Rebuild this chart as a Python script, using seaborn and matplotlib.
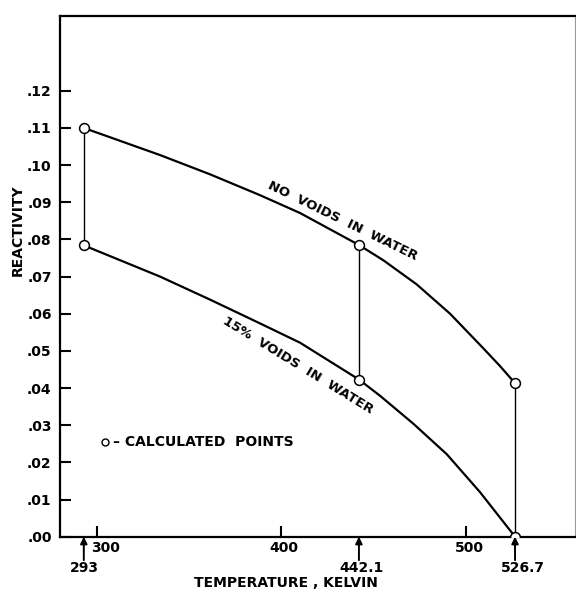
import matplotlib
matplotlib.use("Agg")
import matplotlib.pyplot as plt
import matplotlib.transforms as mtransforms
import seaborn as sns
import pandas as pd

# ---- data ----
temp_no_voids = [293, 334.3, 361.5, 388.5, 410.2, 442.1, 455.3, 473.4, 491.5, 509.5, 518.6, 526.7]
react_no_voids = [0.110, 0.1027, 0.0975, 0.0919, 0.0871, 0.0785, 0.0744, 0.0679, 0.0600, 0.0507, 0.0459, 0.0413]

temp_15_voids = [293, 334.3, 361.4, 388.5, 410.2, 442.1, 453.6, 471.6, 489.7, 507.7, 526.7]
react_15_voids = [0.0784, 0.0700, 0.0638, 0.0574, 0.0522, 0.0423, 0.0379, 0.0304, 0.0222, 0.0120, 0.000]

calc_temp = [293, 442.1, 526.7]
calc_no_voids = [0.110, 0.0785, 0.0413]
calc_15_voids = [0.0784, 0.0423, 0.000]
calc_labels = ["293", "442.1", "526.7"]

xticks = [300, 400, 500]
xtick_labels = ["300", "400", "500"]
yticks = [0.00, 0.01, 0.02, 0.03, 0.04, 0.05, 0.06, 0.07, 0.08, 0.09, 0.10, 0.11, 0.12]
ytick_labels = [".00", ".01", ".02", ".03", ".04", ".05", ".06", ".07", ".08", ".09", ".10", ".11", ".12"]

sns.set_theme(style="white")
plt.rcParams["font.family"] = ["DejaVu Sans"]
plt.rcParams["text.color"] = "black"

fig = plt.figure(figsize=(5.76, 5.91), dpi=100)
ax = fig.add_axes([60 / 576, (591 - 536.7) / 591, (575 - 60) / 576, (536.7 - 15.7) / 591])

df_no = pd.DataFrame({"T": temp_no_voids, "R": react_no_voids})
df_15 = pd.DataFrame({"T": temp_15_voids, "R": react_15_voids})
sns.lineplot(data=df_no, x="T", y="R", ax=ax, color="black", linewidth=1.6, sort=False, zorder=2)
sns.lineplot(data=df_15, x="T", y="R", ax=ax, color="black", linewidth=1.6, sort=False, zorder=2)
for ln in ax.get_lines():
    ln.set_solid_joinstyle("round")

# vertical connectors between calculated points
ax.vlines(calc_temp, calc_15_voids, calc_no_voids, colors="black", linewidth=1.0, zorder=1)

df_calc = pd.DataFrame({"T": calc_temp * 2, "R": calc_no_voids + calc_15_voids})
sns.scatterplot(data=df_calc, x="T", y="R", ax=ax, marker="o", s=50,
                facecolor="white", edgecolor="black", linewidth=1.1, zorder=3)

ax.set_xlim(280.1, 559.2)
ax.set_ylim(0.0, 0.1402)

ax.set_xticks(xticks)
ax.set_xticklabels(xtick_labels)
ax.set_yticks(yticks)
ax.set_yticklabels(ytick_labels)
ax.tick_params(axis="both", direction="in", length=8, width=1.5, color="black",
               labelsize=10, labelcolor="black", bottom=True, left=True,
               top=False, right=False)
ax.tick_params(axis="y", pad=6)
ax.tick_params(axis="x", pad=3)
x_offsets_px = [9, 2.5, 4]
for lab, off in zip(ax.get_xticklabels(), x_offsets_px):
    lab.set_horizontalalignment("center")
    lab.set_fontweight("bold")
    lab.set_transform(lab.get_transform() + mtransforms.ScaledTranslation(off / 100, 0, fig.dpi_scale_trans))
for lab in ax.get_yticklabels():
    lab.set_fontweight("bold")

for side in ["left", "bottom", "top"]:
    ax.spines[side].set_color("black")
    ax.spines[side].set_linewidth(1.6)
ax.spines["right"].set_color("#999999")
ax.spines["right"].set_linewidth(0.8)

ax.set_xlabel("")
ax.set_ylabel("")
fig.text(18 / 576, 1 - 230 / 591, "REACTIVITY", rotation=90, ha="center", va="center",
         fontsize=10, fontweight="bold")
fig.text(286 / 576, 1 - 583 / 591, "TEMPERATURE , KELVIN", ha="center", va="center",
         fontsize=10, fontweight="bold")

# arrows under the axis for calculated temperatures
trans = ax.get_xaxis_transform()
label_shift = [1, 3, 8]
for t, lab, sh in zip(calc_temp, calc_labels, label_shift):
    ax.annotate("", xy=(t, 0.0), xycoords=trans, xytext=(t, -0.045), textcoords=trans,
                arrowprops=dict(arrowstyle="-|>", color="black", lw=1.4,
                                mutation_scale=10, shrinkA=0, shrinkB=0),
                annotation_clip=False)
    ax.annotate(lab, xy=(t, -0.061), xycoords=trans, xytext=(sh * 0.72, 0),
                textcoords="offset points", ha="center", va="center",
                fontsize=10, fontweight="bold", annotation_clip=False)

# curve labels
ax.text(433, 0.0849, "NO  VOIDS  IN  WATER", rotation=-26, rotation_mode="anchor",
        ha="center", va="center", fontsize=9.5, fontweight="bold")
ax.text(409, 0.0462, "15%  VOIDS  IN  WATER", rotation=-31.5, rotation_mode="anchor",
        ha="center", va="center", fontsize=9.5, fontweight="bold")

# legend note
ax.plot([304.5], [0.0256], marker="o", markersize=5, markerfacecolor="white",
        markeredgecolor="black", markeredgewidth=1.0, linestyle="none")
ax.text(309, 0.0256, "– CALCULATED  POINTS", ha="left", va="center",
        fontsize=10, fontweight="bold")

fig.savefig("out.png", dpi=100)
